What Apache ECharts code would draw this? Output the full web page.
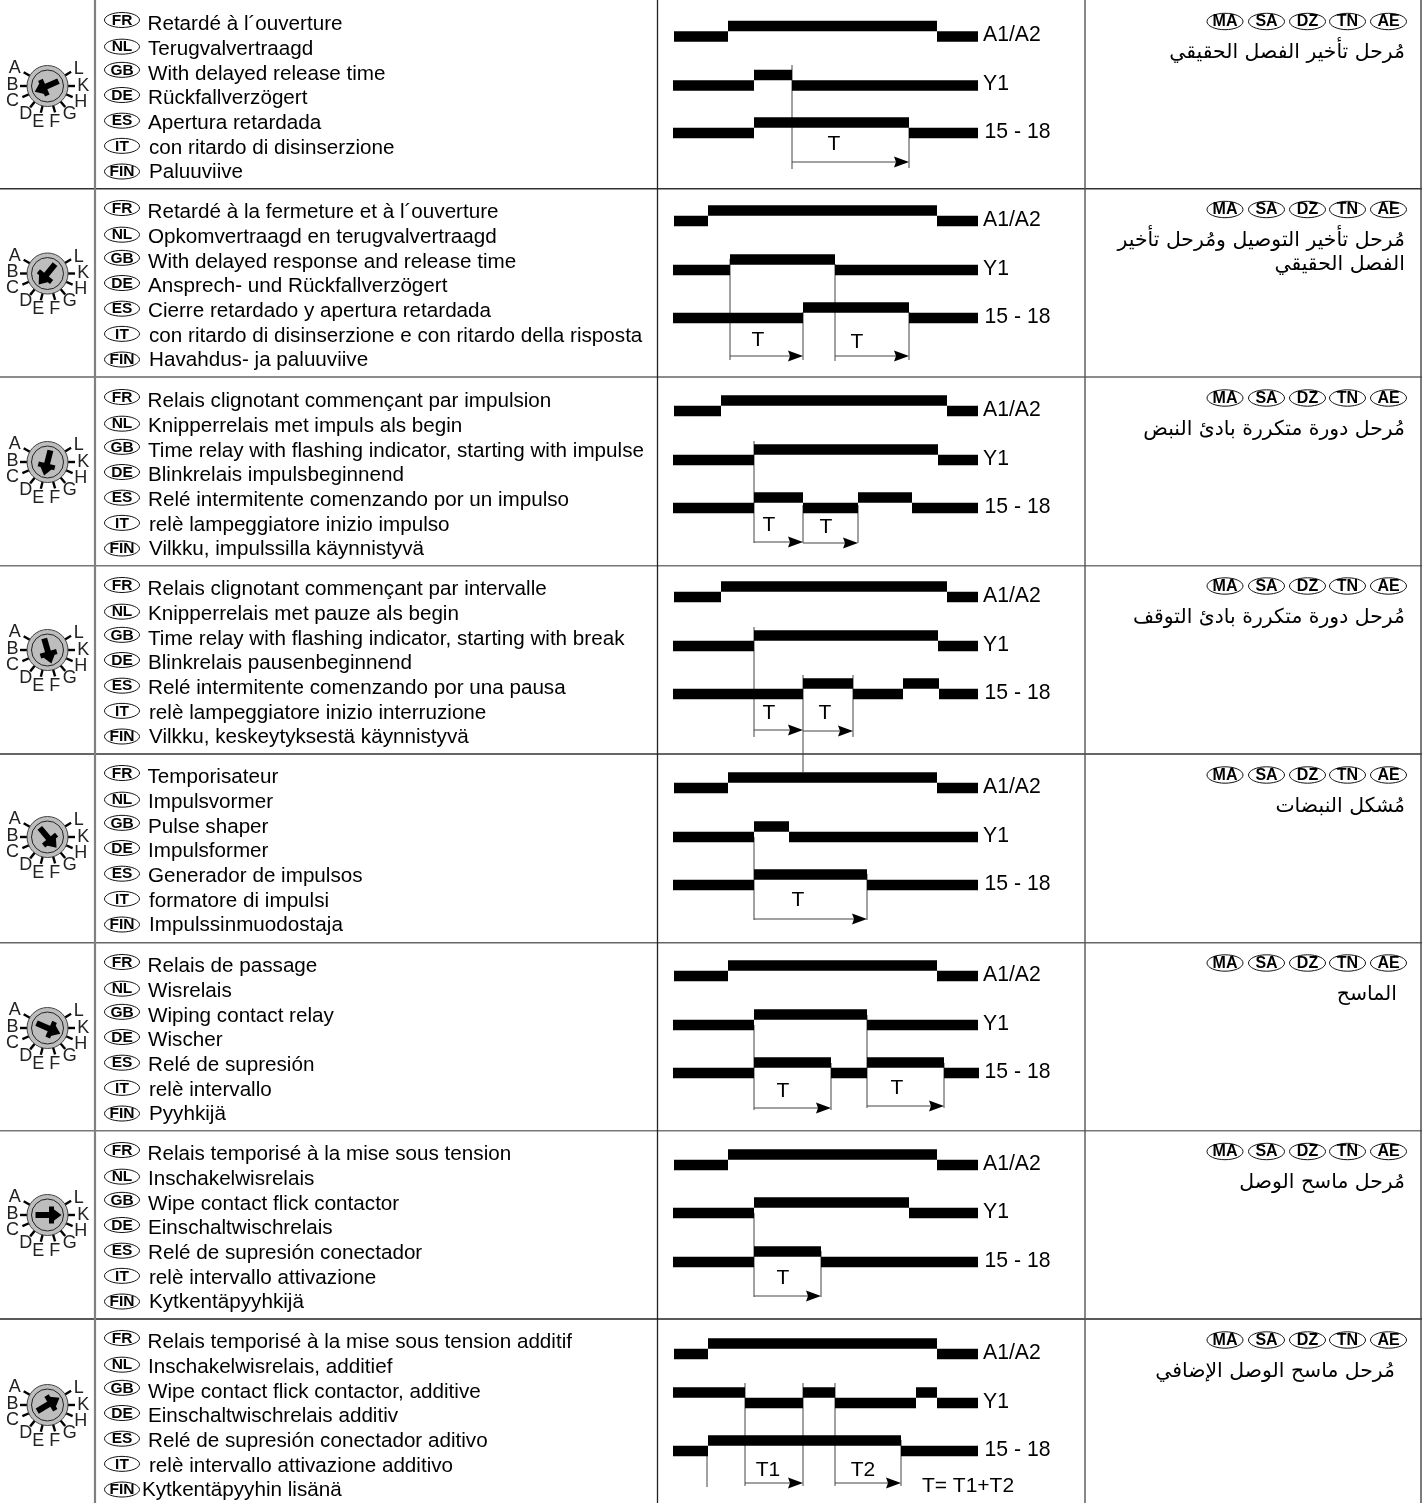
<!DOCTYPE html>
<html><head><meta charset="utf-8">
<style>html,body{margin:0;padding:0;background:#fff}#c{width:1422px;height:1503px}</style>
<script src="https://cdn.jsdelivr.net/npm/echarts@6/dist/echarts.min.js"></script>
</head><body><div id="c"></div>
<script>
const languageCodes = ['FR','NL','GB','DE','ES','IT','FIN'];
const arabicCodes = ['MA','SA','DZ','TN','AE'];
const arabicCodeX = [1225,1266.5,1307.5,1347.5,1388.5];
const descriptions = [
 ['Retardé à l´ouverture','Terugvalvertraagd','With delayed release time','Rückfallverzögert','Apertura retardada','con ritardo di disinserzione','Paluuviive'],
 ['Retardé à la fermeture et à l´ouverture','Opkomvertraagd en terugvalvertraagd','With delayed response and release time','Ansprech- und Rückfallverzögert','Cierre retardado y apertura retardada','con ritardo di disinserzione e con ritardo della risposta','Havahdus- ja paluuviive'],
 ['Relais clignotant commençant par impulsion','Knipperrelais met impuls als begin','Time relay with flashing indicator, starting with impulse','Blinkrelais impulsbeginnend','Relé intermitente comenzando por un impulso','relè lampeggiatore inizio impulso','Vilkku, impulssilla käynnistyvä'],
 ['Relais clignotant commençant par intervalle','Knipperrelais met pauze als begin','Time relay with flashing indicator, starting with break','Blinkrelais pausenbeginnend','Relé intermitente comenzando por una pausa','relè lampeggiatore inizio interruzione','Vilkku, keskeytyksestä käynnistyvä'],
 ['Temporisateur','Impulsvormer','Pulse shaper','Impulsformer','Generador de impulsos','formatore di impulsi','Impulssinmuodostaja'],
 ['Relais de passage','Wisrelais','Wiping contact relay','Wischer','Relé de supresión','relè intervallo','Pyyhkijä'],
 ['Relais temporisé à la mise sous tension','Inschakelwisrelais','Wipe contact flick contactor','Einschaltwischrelais','Relé de supresión conectador','relè intervallo attivazione','Kytkentäpyyhkijä'],
 ['Relais temporisé à la mise sous tension additif','Inschakelwisrelais, additief','Wipe contact flick contactor, additive','Einschaltwischrelais additiv','Relé de supresión conectador aditivo','relè intervallo attivazione additivo','Kytkentäpyyhin lisänä']
];
const arabicLabels = [
 ['مُرحل تأخير الفصل الحقيقي'],
 ['مُرحل تأخير التوصيل ومُرحل تأخير','الفصل الحقيقي'],
 ['مُرحل دورة متكررة بادئ النبض'],
 ['مُرحل دورة متكررة بادئ التوقف'],
 ['مُشكل النبضات'],
 ['الماسح'],
 ['مُرحل ماسح الوصل'],
 ['مُرحل ماسح الوصل الإضافي']
];
const arabicRight = [1405,1405,1405,1405,1405,1397,1405,1395];
const signalNames = ['A1/A2','Y1','15 - 18'];
const rowFirstLine = [24,212,401,589,777,966,1154,1342];
const rowArabicBadge = [21.5,209.5,398,586,775,963,1151.5,1340];
const knobY = [86,273.5,462,650,837,1028,1215,1405];
const knobLetters = ['A','B','C','D','E','F','G','H','K','L'];
const knobTickAngles = [300,270,246,219,194,164,140,114,90,59];
const knobLetterDx = [-32.7,-35,-35,-21.7,-9.3,7.3,22.3,33.3,35.7,31.3];
const knobLetterDy = [-17.7,-1,15,27.7,36,36,27.7,15.7,0,-16.7];
const knobSetting = ['C','D','E','F','G','H','K','L'];
const separators = [188.7,377,565.7,754,942.7,1130.7,1319];
const separatorColor = ['#333','#666','#777','#333','#666','#777','#222'];
const a1Low = [36.5,221,411,597,788,976,1165,1354];
const y1Low = [85.5,270,460,646,837,1025,1213,1403];
const relayLow = [133,318,508,694,885,1073,1262,1451];
const a1Start = [0,0,0,0,0,0,0,0];
const y1Start = [0,0,0,0,0,0,0,1];
const relayStart = [0,0,0,0,0,0,0,0];
const a1Edges = [
 [674,728,937,978],[674,708,937,978],[674,721,947,978],[674,721,947,978],
 [674,728,937,978],[674,728,937,978],[674,728,937,978],[674,708,937,978]];
const y1Edges = [
 [673,754,792,978],[673,730,835,978],[673,754,938,978],[673,754,938,978],
 [673,754,789,978],[673,754,867,978],[673,754,909,978],[673,745,803,835,916,937,978]];
const relayEdges = [
 [673,754,909,978],[673,803,909,978],[673,754,803,858,912,978],[673,803,853,903,939,978],
 [673,754,867,978],[673,754,831,867,944,979],[673,754,821,978],[673,708,901,978]];
const markerLines = [
 [[792,65,169],[909,128,168]],
 [[730,259,360],[803,312,360],[835,264,361],[909,312,360]],
 [[754,441,543],[803,505,543],[858,505,543]],
 [[754,627,737],[803,675,772],[853,675,737]],
 [[754,837,920],[867,874,920]],
 [[754,1025,1110],[831,1063,1110],[867,1015,1108],[944,1063,1108]],
 [[754,1213,1297],[821,1251,1297]],
 [[707,1451,1487],[745,1383,1486],[803,1383,1486],[835,1383,1486],[901,1440,1486]]
];
const arrows = [
 [[792,909,162]],
 [[730,803,356],[835,909,356]],
 [[754,803,542],[803,858,543]],
 [[754,803,730],[803,853,731]],
 [[754,867,919]],
 [[754,831,1108],[867,944,1106]],
 [[754,821,1296]],
 [[745,803,1483],[835,901,1483]]
];
const spanLabels = [
 [['T',834,144]],
 [['T',758,340],['T',857,342]],
 [['T',769,525],['T',826,527]],
 [['T',769,713],['T',825,713]],
 [['T',798,900]],
 [['T',783,1091],['T',897,1088]],
 [['T',783,1278]],
 [['T1',768,1470],['T2',863,1470],['T= T1+T2',968,1486]]
];

const LEVEL_STEP = 10.5, BAR_H = 10.5, LINE_STEP = 24.67;
const badgeDy = [-4,-2,-3.5,-3,-2,-1.5,-0.5];
const textX = [147.5,148,148,148,148,149,149];
const SANS = '"Liberation Sans",Arial,sans-serif';

const segs = [];
function addSignal(edges, start, low){
  edges.forEach((xs, r) => {
    for (let i = 0; i < xs.length - 1; i++) {
      const lvl = (start[r] + i) % 2;
      segs.push([xs[i], xs[i+1], low[r] - lvl * LEVEL_STEP]);
    }
  });
}
addSignal(a1Edges, a1Start, a1Low);
addSignal(y1Edges, y1Start, y1Low);
addSignal(relayEdges, relayStart, relayLow);

const texts = [], badges = [];
descriptions.forEach((lines, r) => {
  lines.forEach((t, i) => {
    const y = rowFirstLine[r] + i * LINE_STEP;
    const x = (r === 7 && i === 6) ? 142 : textX[i];
    texts.push([x, y + 0.5, t, 'left', `20.65px ${SANS}`]);
    badges.push([122, y + badgeDy[i], languageCodes[i], 17.5, 7.5, `bold 15.5px ${SANS}`]);
  });
  arabicCodes.forEach((c, i) => badges.push([arabicCodeX[i], rowArabicBadge[r], c, 18, 8.2, `bold 16px ${SANS}`]));
  arabicLabels[r].forEach((t, i) => texts.push([arabicRight[r], rowArabicBadge[r] + 31.5 + i * 24, t, 'right', '20.4px "DejaVu Sans"']));
  [a1Low, y1Low, relayLow].forEach((low, i) =>
    texts.push([i === 2 ? 984.5 : 983, low[r] - 1, signalNames[i], 'left', `21.2px ${SANS}`]));
  spanLabels[r].forEach(s => texts.push([s[1], s[2], s[0], 'center', `21px ${SANS}`]));
});

const hLines = separators.map((y, i) => [0, y, 1422, y, separatorColor[i], 1.4]);
const vLines = [[95,0,95,1503,'#808080',2.2],[657.5,0,657.5,1503,'#222',1.3],[1085,0,1085,1503,'#555',1.4],[1421,0,1421,1503,'#444',1.4]];
const markers = markerLines.flat().map(m => [m[0], m[1], m[0], m[2], '#444', 1]);
const tableAndMarkers = hLines.concat(vLines, markers);

const knobs = knobY.map((y, r) => [47.5, y, knobTickAngles[knobLetters.indexOf(knobSetting[r])]]);

function rot(cx, cy, a, pts){
  const t = a * Math.PI / 180, dx = Math.sin(t), dy = -Math.cos(t), nx = Math.cos(t), ny = Math.sin(t);
  return pts.map(p => [cx + p[0]*dx + p[1]*nx, cy + p[0]*dy + p[1]*ny]);
}
function custom(data, render, z){
  return {type:'custom', coordinateSystem:'cartesian2d', silent:true, z:z||2, clip:false,
    encode:{x:0,y:1}, data, renderItem:render};
}
const option = {
  animation:false, backgroundColor:'#fff',
  grid:{left:0,right:0,top:0,bottom:0},
  xAxis:{type:'value',min:0,max:1422,show:false},
  yAxis:{type:'value',min:0,max:1503,inverse:true,show:false},
  series:[
    custom(segs, (p, api) => {
      const a = api.coord([api.value(0), api.value(2)]), b = api.coord([api.value(1), api.value(2)]);
      return {type:'rect', shape:{x:a[0], y:a[1]-BAR_H/2, width:b[0]-a[0], height:BAR_H}, style:{fill:'#000'}};
    }, 3),
    custom(tableAndMarkers, (p, api) => {
      const d = tableAndMarkers[p.dataIndex], a = api.coord([d[0], d[1]]), b = api.coord([d[2], d[3]]);
      return {type:'line', shape:{x1:a[0],y1:a[1],x2:b[0],y2:b[1]}, style:{stroke:d[4], lineWidth:d[5]}};
    }, 2),
    custom(arrows.flat(), (p, api) => {
      const a = api.coord([api.value(0), api.value(2)]), b = api.coord([api.value(1), api.value(2)]);
      return {type:'group', children:[
        {type:'line', shape:{x1:a[0],y1:a[1],x2:b[0]-6,y2:a[1]}, style:{stroke:'#444', lineWidth:1}},
        {type:'polygon', shape:{points:[[b[0],a[1]],[b[0]-15,a[1]-5.5],[b[0]-13,a[1]],[b[0]-15,a[1]+5.5]]}, style:{fill:'#000'}}
      ]};
    }, 3),
    custom(badges, (p, api) => {
      const d = badges[p.dataIndex], c = api.coord([d[0], d[1]]);
      return {type:'group', children:[
        {type:'ellipse', shape:{cx:c[0],cy:c[1],rx:d[3],ry:d[4]}, style:{fill:'#fff', stroke:'#111', lineWidth:1}},
        {type:'text', style:{x:c[0],y:c[1]+0.5,text:d[2],font:d[5],fill:'#000',textAlign:'center',textVerticalAlign:'middle'}}
      ]};
    }, 4),
    custom(texts, (p, api) => {
      const d = texts[p.dataIndex], c = api.coord([d[0], d[1]]);
      return {type:'text', style:{x:c[0],y:c[1],text:d[2],font:d[4],fill:'#000',textAlign:d[3],textVerticalAlign:'middle'}};
    }, 5),
    custom(knobs, (p, api) => {
      const d = knobs[p.dataIndex], c = api.coord([d[0], d[1]]), ch = [];
      knobTickAngles.forEach((a, i) => {
        const q = rot(c[0], c[1], a, [[19,0],[27.5,0]]);
        ch.push({type:'line', shape:{x1:q[0][0],y1:q[0][1],x2:q[1][0],y2:q[1][1]}, style:{stroke:'#000', lineWidth:2.4}});
        ch.push({type:'text', style:{x:c[0]+knobLetterDx[i],y:c[1]+knobLetterDy[i],text:knobLetters[i],font:`18px ${SANS}`,fill:'#222',textAlign:'center',textVerticalAlign:'middle'}});
      });
      ch.push({type:'circle', shape:{cx:c[0],cy:c[1],r:20.5}, style:{fill:'#bdbdbd', stroke:'#444', lineWidth:1}});
      ch.push({type:'circle', shape:{cx:c[0],cy:c[1],r:16}, style:{fill:'none', stroke:'#222', lineWidth:1}});
      [[[-12,-3],[7,-3],[7,3],[-12,3]],
       [[1.5,-8.5],[6.5,-8.5],[6.5,8.5],[1.5,8.5]],
       [[6,-6],[14,0],[6,6]]].forEach(pts =>
        ch.push({type:'polygon', shape:{points:rot(c[0], c[1], d[2], pts)}, style:{fill:'#000'}}));
      return {type:'group', children:ch};
    }, 4)
  ]
};
const chart = echarts.init(document.getElementById('c'), null, {renderer:'canvas'});
chart.setOption(option);
</script></body></html>
